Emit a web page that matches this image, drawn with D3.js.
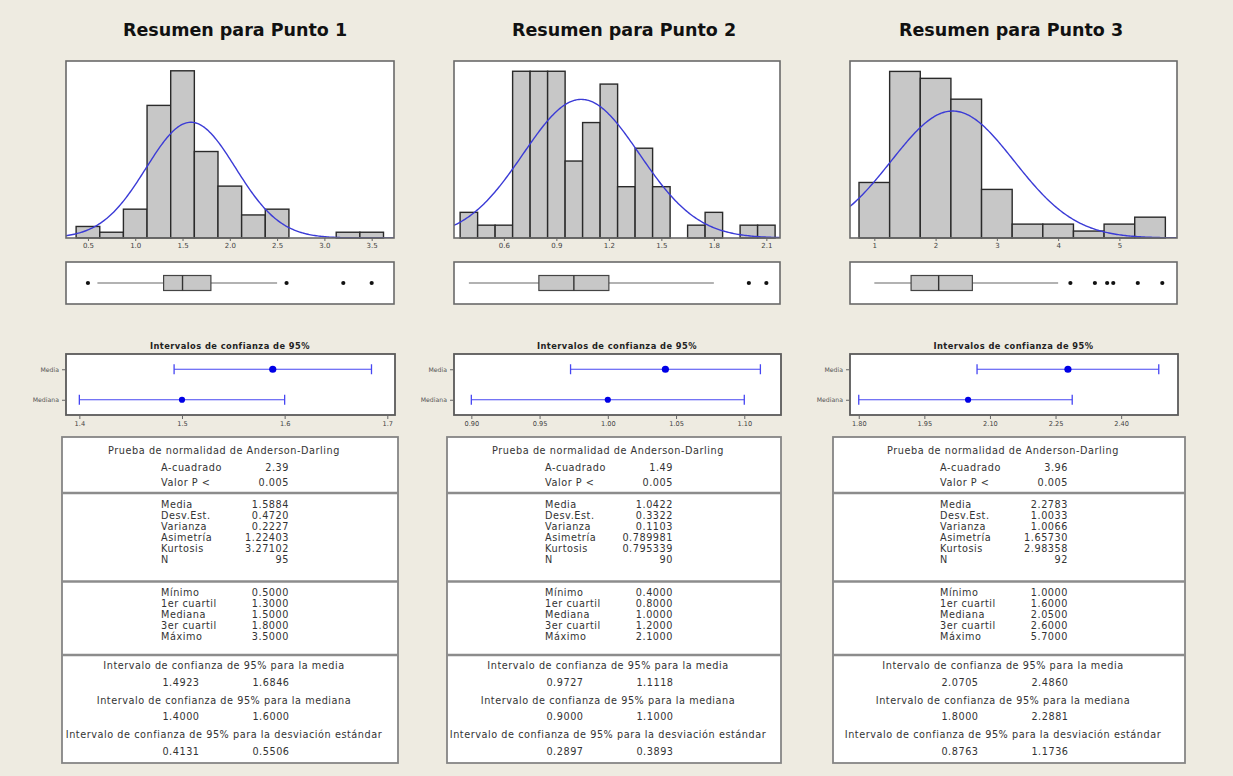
<!DOCTYPE html>
<html>
<head>
<meta charset="utf-8">
<script src="https://cdn.jsdelivr.net/npm/d3@7"></script>
<style>
  html, body { margin: 0; padding: 0; background: #eeebe1; }
  svg { display: block; }
  text { font-family: "DejaVu Sans", Verdana, sans-serif; }
</style>
</head>
<body>
<svg id="chart" width="1233" height="776"></svg>
<script>
// ---------------- data ----------------
const titles = ["Resumen para Punto 1", "Resumen para Punto 2", "Resumen para Punto 3"];

// histogram bins (midpoints) and counts
const binWidth = [0.25, 0.1, 0.5];
const histMid1 = [0.5, 0.75, 1.0, 1.25, 1.5, 1.75, 2.0, 2.25, 2.5, 2.75, 3.0, 3.25, 3.5];
const histCnt1 = [2, 1, 5, 23, 29, 15, 9, 4, 5, 0, 0, 1, 1];
const histMid2 = [0.4, 0.5, 0.6, 0.7, 0.8, 0.9, 1.0, 1.1, 1.2, 1.3, 1.4, 1.5, 1.6, 1.7, 1.8, 1.9, 2.0, 2.1];
const histCnt2 = [2, 1, 1, 13, 13, 13, 6, 9, 12, 4, 7, 4, 0, 1, 2, 0, 1, 1];
const histMid3 = [1.0, 1.5, 2.0, 2.5, 3.0, 3.5, 4.0, 4.5, 5.0, 5.5];
const histCnt3 = [8, 24, 23, 20, 7, 2, 2, 1, 2, 3];

const histTicks1 = [0.5, 1.0, 1.5, 2.0, 2.5, 3.0, 3.5];
const histTicks2 = [0.6, 0.9, 1.2, 1.5, 1.8, 2.1];
const histTicks3 = [1, 2, 3, 4, 5];

// descriptive statistics
const adSquare = [2.39, 1.49, 3.96];
const pValue = ["0.005", "0.005", "0.005"];
const mean = [1.5884, 1.0422, 2.2783];
const stDev = [0.4720, 0.3322, 1.0033];
const variance = [0.2227, 0.1103, 1.0066];
const skewness = ["1.22403", "0.789981", "1.65730"];
const kurtosis = ["3.27102", "0.795339", "2.98358"];
const nObs = [95, 90, 92];
const minimum = [0.5, 0.4, 1.0];
const q1 = [1.3, 0.8, 1.6];
const median = [1.5, 1.0, 2.05];
const q3 = [1.8, 1.2, 2.6];
const maximum = [3.5, 2.1, 5.7];

// boxplot whisker ends and outliers
const whiskerLo = [0.6, 0.4, 1.0];
const whiskerHi = [2.5, 1.8, 4.0];
const outliers = [[0.5, 2.6, 3.2, 3.5], [2.0, 2.1], [4.2, 4.6, 4.8, 4.9, 5.3, 5.7]];

// 95% confidence intervals
const ciMeanLo = [1.4923, 0.9727, 2.0705];
const ciMeanHi = [1.6846, 1.1118, 2.4860];
const ciMedLo = [1.4000, 0.9000, 1.8000];
const ciMedHi = [1.6000, 1.1000, 2.2881];
const ciSdLo = [0.4131, 0.2897, 0.8763];
const ciSdHi = [0.5506, 0.3893, 1.1736];

const ciTicks1 = [1.4, 1.5, 1.6, 1.7];
const ciTicks2 = [0.90, 0.95, 1.00, 1.05, 1.10];
const ciTicks3 = [1.80, 1.95, 2.10, 2.25, 2.40];
const ciRows = ["Media", "Mediana"];

// ---------------- layout ----------------
const histMid = [histMid1, histMid2, histMid3];
const histCnt = [histCnt1, histCnt2, histCnt3];
const histTicks = [histTicks1, histTicks2, histTicks3];
const ciTicks = [ciTicks1, ciTicks2, ciTicks3];

const panels = [
  { x0: 66, x1: 394, titleX: 235, tbl: [62, 398], histDom: [0.268, 3.736], yMax: 30.7, ciDom: [1.387, 1.7075], histFmt: ".1f", ciFmt: ".1f" },
  { x0: 454, x1: 780, titleX: 624, tbl: [447, 781], histDom: [0.315, 2.178], yMax: 13.8, ciDom: [0.8873, 1.1269], histFmt: ".1f", ciFmt: ".2f" },
  { x0: 850, x1: 1177, titleX: 1011, tbl: [833, 1185], histDom: [0.603, 5.94], yMax: 25.5, ciDom: [1.78, 2.53], histFmt: "d", ciFmt: ".2f" }
];

const H = { top: 61, bottom: 238 };
const B = { top: 262, bottom: 304 };
const C = { top: 354, bottom: 415, title: 349 };
const T = { top: 437, bottom: 763 };

const svg = d3.select("#chart");
const f4 = d3.format(".4f");

panels.forEach((p, i) => {
  const g = svg.append("g");

  // title
  g.append("text")
    .attr("x", p.titleX).attr("y", 36)
    .attr("text-anchor", "middle")
    .attr("font-size", 17.5).attr("font-weight", "bold").attr("fill", "#111")
    .text(titles[i]);

  // ---------- histogram ----------
  const x = d3.scaleLinear().domain(p.histDom).range([p.x0, p.x1]);
  const y = d3.scaleLinear().domain([0, p.yMax]).range([H.bottom, H.top]);

  g.append("rect")
    .attr("x", p.x0).attr("y", H.top)
    .attr("width", p.x1 - p.x0).attr("height", H.bottom - H.top)
    .attr("fill", "#fff");

  const clipId = "clip" + i;
  g.append("clipPath").attr("id", clipId)
    .append("rect")
    .attr("x", p.x0).attr("y", H.top)
    .attr("width", p.x1 - p.x0).attr("height", H.bottom - H.top);

  const w = binWidth[i];
  const bins = histMid[i].map((m, k) => ({ m, c: histCnt[i][k] })).filter(d => d.c > 0);
  g.append("g").selectAll("rect").data(bins).join("rect")
    .attr("x", d => x(d.m - w / 2))
    .attr("y", d => y(d.c))
    .attr("width", d => x(d.m + w / 2) - x(d.m - w / 2))
    .attr("height", d => y(0) - y(d.c))
    .attr("fill", "#c7c7c7")
    .attr("stroke", "#2a2a2a")
    .attr("stroke-width", 1.4);

  // fitted normal curve, scaled to counts per bin
  const mu = mean[i], sd = stDev[i], n = nObs[i];
  const pdf = v => Math.exp(-0.5 * ((v - mu) / sd) ** 2) / (sd * Math.sqrt(2 * Math.PI));
  const xs = d3.range(0, 241).map(k => p.histDom[0] + (p.histDom[1] - p.histDom[0]) * k / 240);
  g.append("path")
    .datum(xs)
    .attr("clip-path", `url(#${clipId})`)
    .attr("fill", "none")
    .attr("stroke", "#3b3bd6")
    .attr("stroke-width", 1.4)
    .attr("d", d3.line().x(v => x(v)).y(v => y(n * w * pdf(v))));

  g.append("rect")
    .attr("x", p.x0).attr("y", H.top)
    .attr("width", p.x1 - p.x0).attr("height", H.bottom - H.top)
    .attr("fill", "none").attr("stroke", "#6a6a6a").attr("stroke-width", 1.6);

  const xAxis = g.append("g")
    .attr("transform", `translate(0,${H.bottom})`)
    .call(d3.axisBottom(x).tickValues(histTicks[i]).tickSize(3).tickFormat(d3.format(p.histFmt)));
  xAxis.select(".domain").remove();
  xAxis.selectAll("line").attr("stroke", "#666");
  xAxis.selectAll("text").attr("font-size", 7).attr("fill", "#444").attr("dy", "0.6em");

  // ---------- boxplot ----------
  const yc = (B.top + B.bottom) / 2;
  g.append("rect")
    .attr("x", p.x0).attr("y", B.top)
    .attr("width", p.x1 - p.x0).attr("height", B.bottom - B.top)
    .attr("fill", "#fff").attr("stroke", "#6a6a6a").attr("stroke-width", 1.6);
  g.append("line")
    .attr("x1", x(whiskerLo[i])).attr("x2", x(q1[i]))
    .attr("y1", yc).attr("y2", yc)
    .attr("stroke", "#666").attr("stroke-width", 1.2);
  g.append("line")
    .attr("x1", x(q3[i])).attr("x2", x(whiskerHi[i]))
    .attr("y1", yc).attr("y2", yc)
    .attr("stroke", "#666").attr("stroke-width", 1.2);
  g.append("rect")
    .attr("x", x(q1[i])).attr("y", yc - 7.5)
    .attr("width", x(q3[i]) - x(q1[i])).attr("height", 15)
    .attr("fill", "#c7c7c7").attr("stroke", "#444").attr("stroke-width", 1.2);
  g.append("line")
    .attr("x1", x(median[i])).attr("x2", x(median[i]))
    .attr("y1", yc - 7.5).attr("y2", yc + 7.5)
    .attr("stroke", "#333").attr("stroke-width", 1.4);
  g.append("g").selectAll("circle").data(outliers[i]).join("circle")
    .attr("cx", d => x(d)).attr("cy", yc).attr("r", 2.1)
    .attr("fill", "#111");

  // ---------- confidence interval plot ----------
  const cx = d3.scaleLinear().domain(p.ciDom).range([p.x0, p.x1 + 1]);
  const cy = d3.scalePoint().domain(ciRows).range([C.top, C.bottom]).padding(0.5);
  const midX = (p.x0 + p.x1) / 2;

  g.append("text")
    .attr("x", midX).attr("y", C.title)
    .attr("text-anchor", "middle")
    .attr("font-size", 8.3).attr("font-weight", "bold").attr("fill", "#222")
    .attr("letter-spacing", 0.45)
    .text("Intervalos de confianza de 95%");

  g.append("rect")
    .attr("x", p.x0).attr("y", C.top)
    .attr("width", p.x1 + 1 - p.x0).attr("height", C.bottom - C.top)
    .attr("fill", "#fff").attr("stroke", "#5a5a5a").attr("stroke-width", 1.8);

  const ciData = [
    { row: "Media", lo: ciMeanLo[i], est: mean[i], hi: ciMeanHi[i], r: 3.6 },
    { row: "Mediana", lo: ciMedLo[i], est: median[i], hi: ciMedHi[i], r: 3.1 }
  ];
  const ci = g.append("g").selectAll("g").data(ciData).join("g");
  ci.append("line")
    .attr("x1", d => cx(d.lo)).attr("x2", d => cx(d.hi))
    .attr("y1", d => cy(d.row)).attr("y2", d => cy(d.row))
    .attr("stroke", "#4646f2").attr("stroke-width", 1.2);
  ci.append("line")
    .attr("x1", d => cx(d.lo)).attr("x2", d => cx(d.lo))
    .attr("y1", d => cy(d.row) - 5).attr("y2", d => cy(d.row) + 5)
    .attr("stroke", "#4646f2").attr("stroke-width", 1.3);
  ci.append("line")
    .attr("x1", d => cx(d.hi)).attr("x2", d => cx(d.hi))
    .attr("y1", d => cy(d.row) - 5).attr("y2", d => cy(d.row) + 5)
    .attr("stroke", "#4646f2").attr("stroke-width", 1.3);
  ci.append("circle")
    .attr("cx", d => cx(d.est)).attr("cy", d => cy(d.row)).attr("r", d => d.r)
    .attr("fill", "#0000e6");

  const cyAxis = g.append("g")
    .attr("transform", `translate(${p.x0 - 1},0)`)
    .call(d3.axisLeft(cy).tickSize(3));
  cyAxis.select(".domain").remove();
  cyAxis.selectAll("line").attr("stroke", "#666");
  cyAxis.selectAll("text").attr("font-size", 6.2).attr("fill", "#555");

  const cxAxis = g.append("g")
    .attr("transform", `translate(0,${C.bottom + 1})`)
    .call(d3.axisBottom(cx).tickValues(ciTicks[i]).tickSize(3).tickFormat(d3.format(p.ciFmt)));
  cxAxis.select(".domain").remove();
  cxAxis.selectAll("line").attr("stroke", "#666");
  cxAxis.selectAll("text").attr("font-size", 6.6).attr("fill", "#444").attr("dy", "0.6em");

  // ---------- statistics table ----------
  const [t0, t1] = p.tbl;
  const tc = (t0 + t1) / 2 - 6;
  g.append("rect")
    .attr("x", t0).attr("y", T.top)
    .attr("width", t1 - t0).attr("height", T.bottom - T.top)
    .attr("fill", "#fff").attr("stroke", "#858585").attr("stroke-width", 1.8);
  [493, 581.5, 655].forEach(ly => {
    g.append("line")
      .attr("x1", t0).attr("x2", t1).attr("y1", ly).attr("y2", ly)
      .attr("stroke", "#8c8c8c").attr("stroke-width", 2.4);
  });

  const tt = g.append("g").attr("font-size", 9.7).attr("fill", "#333").attr("letter-spacing", 0.55);
  const centerLine = (txt, yy) => tt.append("text").attr("x", tc).attr("y", yy).attr("text-anchor", "middle").text(txt);
  const pairLine = (a, b, yy) => {
    tt.append("text").attr("x", tc - 43).attr("y", yy).attr("text-anchor", "middle").text(a);
    tt.append("text").attr("x", tc + 47).attr("y", yy).attr("text-anchor", "middle").text(b);
  };
  const row = (label, value, yy) => {
    tt.append("text").attr("x", tc - 63).attr("y", yy).text(label);
    tt.append("text").attr("x", tc + 65).attr("y", yy).attr("text-anchor", "end").text(value);
  };

  centerLine("Prueba de normalidad de Anderson-Darling", 453.5);
  row("A-cuadrado", d3.format(".2f")(adSquare[i]), 471);
  row("Valor P <", pValue[i], 486);

  const statRows = [
    ["Media", f4(mean[i])], ["Desv.Est.", f4(stDev[i])], ["Varianza", f4(variance[i])],
    ["Asimetría", skewness[i]], ["Kurtosis", kurtosis[i]], ["N", String(nObs[i])]
  ];
  statRows.forEach((r, k) => row(r[0], r[1], 507.5 + 11 * k));

  const quantRows = [
    ["Mínimo", f4(minimum[i])], ["1er cuartil", f4(q1[i])], ["Mediana", f4(median[i])],
    ["3er cuartil", f4(q3[i])], ["Máximo", f4(maximum[i])]
  ];
  quantRows.forEach((r, k) => row(r[0], r[1], 596 + 11 * k));

  centerLine("Intervalo de confianza de 95%  para la media", 668.5);
  pairLine(f4(ciMeanLo[i]), f4(ciMeanHi[i]), 686);
  centerLine("Intervalo de confianza de 95%  para la mediana", 703.5);
  pairLine(f4(ciMedLo[i]), f4(ciMedHi[i]), 720);
  centerLine("Intervalo de confianza de 95%  para la desviación estándar", 738);
  pairLine(f4(ciSdLo[i]), f4(ciSdHi[i]), 754.5);
});
</script>
</body>
</html>
